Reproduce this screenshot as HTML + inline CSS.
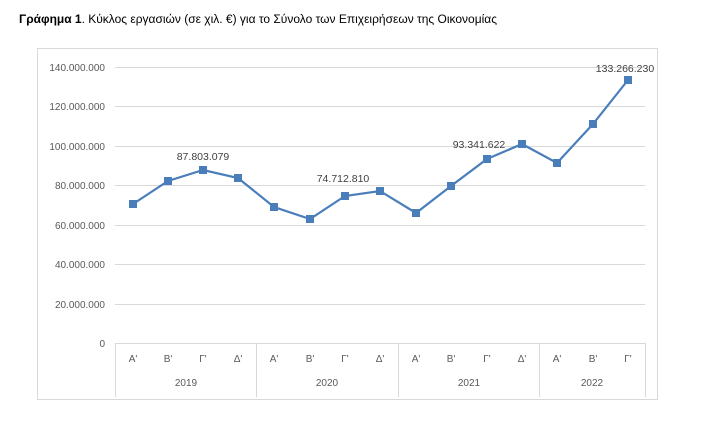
<!DOCTYPE html>
<html><head><meta charset="utf-8"><style>
body{margin:0;background:#fff;width:703px;height:437px;overflow:hidden}
</style></head><body>
<svg width="703" height="437" xmlns="http://www.w3.org/2000/svg" font-family="'Liberation Sans', sans-serif">
<text x="19" y="23" font-size="11.5" fill="#000" textLength="478" lengthAdjust="spacingAndGlyphs"><tspan font-weight="bold">Γράφημα 1</tspan>. Κύκλος εργασιών (σε χιλ. €) για το Σύνολο των Επιχειρήσεων της Οικονομίας</text>
<rect x="37.5" y="48.5" width="620" height="351" fill="#fff" stroke="#d9d9d9"/>
<g stroke="#d9d9d9" stroke-width="1">
<line x1="115" y1="67.5" x2="645" y2="67.5"/>
<line x1="115" y1="106.5" x2="645" y2="106.5"/>
<line x1="115" y1="146.5" x2="645" y2="146.5"/>
<line x1="115" y1="185.5" x2="645" y2="185.5"/>
<line x1="115" y1="225.5" x2="645" y2="225.5"/>
<line x1="115" y1="264.5" x2="645" y2="264.5"/>
<line x1="115" y1="304.5" x2="645" y2="304.5"/>
<line x1="115" y1="343.5" x2="645" y2="343.5"/>
<line x1="115.5" y1="343" x2="115.5" y2="397"/>
<line x1="256.5" y1="343" x2="256.5" y2="397"/>
<line x1="398.5" y1="343" x2="398.5" y2="397"/>
<line x1="539.5" y1="343" x2="539.5" y2="397"/>
<line x1="645.5" y1="343" x2="645.5" y2="397"/>
</g>
<g font-size="10" fill="#595959" text-anchor="end">
<text x="105" y="71">140.000.000</text>
<text x="105" y="110">120.000.000</text>
<text x="105" y="150">100.000.000</text>
<text x="105" y="189">80.000.000</text>
<text x="105" y="229">60.000.000</text>
<text x="105" y="268">40.000.000</text>
<text x="105" y="308">20.000.000</text>
<text x="105" y="347">0</text>
</g>
<g font-size="10" fill="#595959" text-anchor="middle">
<text x="133" y="362">Α'</text><text x="168" y="362">Β'</text><text x="203" y="362">Γ'</text><text x="238" y="362">Δ'</text>
<text x="274" y="362">Α'</text><text x="310" y="362">Β'</text><text x="345" y="362">Γ'</text><text x="380" y="362">Δ'</text>
<text x="416" y="362">Α'</text><text x="451" y="362">Β'</text><text x="487" y="362">Γ'</text><text x="522" y="362">Δ'</text>
<text x="557" y="362">Α'</text><text x="593" y="362">Β'</text><text x="628" y="362">Γ'</text>
<text x="186" y="386">2019</text><text x="327" y="386">2020</text><text x="469" y="386">2021</text><text x="592" y="386">2022</text>
</g>
<polyline fill="none" stroke="#4a7ebb" stroke-width="2.2" points="133,204 168,181 203,170 238,178 274,207 310,219 345,196 380,191 416,213 451,186 487,159 522,144 557,163 593,124 628,80"/>
<g fill="#4a7ebb">
<rect x="129" y="200" width="8" height="8"/><rect x="164" y="177" width="8" height="8"/><rect x="199" y="166" width="8" height="8"/><rect x="234" y="174" width="8" height="8"/>
<rect x="270" y="203" width="8" height="8"/><rect x="306" y="215" width="8" height="8"/><rect x="341" y="192" width="8" height="8"/><rect x="376" y="187" width="8" height="8"/>
<rect x="412" y="209" width="8" height="8"/><rect x="447" y="182" width="8" height="8"/><rect x="483" y="155" width="8" height="8"/><rect x="518" y="140" width="8" height="8"/>
<rect x="553" y="159" width="8" height="8"/><rect x="589" y="120" width="8" height="8"/><rect x="624" y="76" width="8" height="8"/>
</g>
<g font-size="10.5" fill="#404040" text-anchor="middle">
<text x="203" y="160">87.803.079</text>
<text x="343" y="182">74.712.810</text>
<text x="479" y="148">93.341.622</text>
<text x="625" y="72">133.266.230</text>
</g>
</svg>
</body></html>
